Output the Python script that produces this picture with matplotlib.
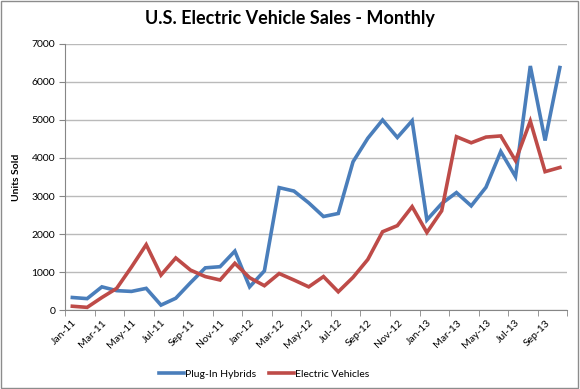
import numpy as np
import matplotlib
matplotlib.use("Agg")
import matplotlib.pyplot as plt
from matplotlib.patches import Rectangle

months = ["Jan-11", "Feb-11", "Mar-11", "Apr-11", "May-11", "Jun-11", "Jul-11", "Aug-11",
          "Sep-11", "Oct-11", "Nov-11", "Dec-11", "Jan-12", "Feb-12", "Mar-12", "Apr-12",
          "May-12", "Jun-12", "Jul-12", "Aug-12", "Sep-12", "Oct-12", "Nov-12", "Dec-12",
          "Jan-13", "Feb-13", "Mar-13", "Apr-13", "May-13", "Jun-13", "Jul-13", "Aug-13",
          "Sep-13", "Oct-13"]
plugin_hybrids = [330, 300, 610, 510, 490, 570, 130, 310, 720, 1110, 1140, 1550,
                  610, 1030, 3220, 3130, 2820, 2460, 2540, 3900, 4520, 5000, 4540, 4980,
                  2370, 2800, 3090, 2740, 3230, 4170, 3510, 6420, 4460, 6380]
electric_vehicles = [100, 70, 330, 570, 1130, 1720, 920, 1370, 1050, 880, 790, 1230,
                     850, 640, 960, 790, 610, 880, 480, 860, 1330, 2060, 2220, 2720,
                     2040, 2610, 4560, 4400, 4550, 4580, 3930, 4970, 3640, 3750]

plt.rcParams["font.family"] = ["Lato", "DejaVu Sans"]

fig = plt.figure(figsize=(5.8, 3.89), dpi=100)
ax = fig.add_axes([0.112, 0.203, 0.866, 0.684])

x = np.arange(len(months))
ax.plot(x, plugin_hybrids, color="#4a7ebb", lw=2.6, label="Plug-In Hybrids",
        solid_joinstyle="miter")
ax.plot(x, electric_vehicles, color="#be4b48", lw=2.6, label="Electric Vehicles",
        solid_joinstyle="miter")

ax.set_xlim(-0.5, len(months) - 0.5)
ax.set_ylim(0, 7000)
ax.set_yticks(range(0, 7001, 1000))
ax.tick_params(axis="y", labelsize=7.5, length=4, color="#868686", pad=3)
ax.yaxis.grid(True, color="#bababa", lw=1)
ax.set_axisbelow(True)

ax.set_xticks(x[::2])
ax.set_xticklabels(months[::2], rotation=45, ha="right", rotation_mode="anchor", fontsize=7.5)
ax.tick_params(axis="x", length=0, pad=6)
ax.set_xticks(np.arange(-0.5, len(months), 2), minor=True)
ax.tick_params(axis="x", which="minor", length=4, color="#868686")

for s in ["top", "right"]:
    ax.spines[s].set_visible(False)
for s in ["left", "bottom"]:
    ax.spines[s].set_color("#868686")

ax.set_ylabel("Units Sold", fontsize=7.5, fontweight="bold", labelpad=8)
fig.suptitle("U.S. Electric Vehicle Sales - Monthly", fontsize=13, fontweight="bold",
             y=0.975)

fig.legend(loc="center", bbox_to_anchor=(0.455, 0.038), ncol=2, frameon=False,
           fontsize=7.5, handlelength=2.4, columnspacing=1.2, handletextpad=0.1)

fig.add_artist(Rectangle((0.002, 0.003), 0.995, 0.994, transform=fig.transFigure,
                         fill=False, edgecolor="#8c8c8c", lw=1))

fig.savefig("out.png", dpi=100)
